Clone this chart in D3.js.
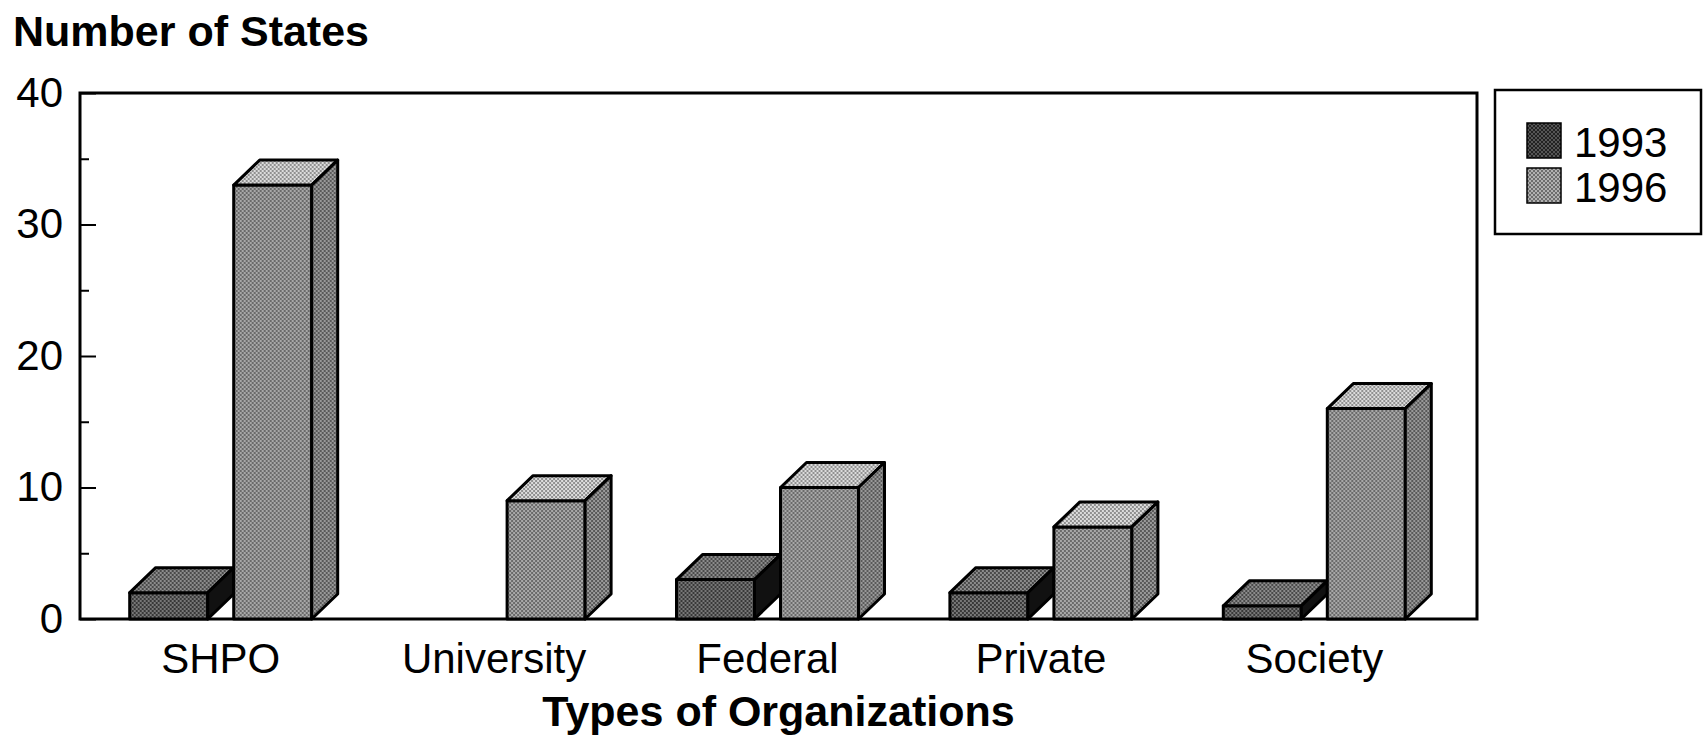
<!DOCTYPE html>
<html>
<head>
<meta charset="utf-8">
<script src="https://cdn.jsdelivr.net/npm/d3@7"></script>
<style>
  body { margin: 0; background: #fff; }
  svg { display: block; font-family: "Liberation Sans", Arial, sans-serif; }
</style>
</head>
<body>
<svg id="chart"></svg>
<script>
// Number of states by type of organization, 1993 vs 1996 (3D bar chart)

const categories = ["SHPO", "University", "Federal", "Private", "Society"];
const series = ["1993", "1996"];
const values1993 = [2, 0, 3, 2, 1];
const values1996 = [33, 9, 10, 7, 16];
const yTickValues = [0, 10, 20, 30, 40];
const yMinorTickValues = [5, 15, 25, 35];

const width = 1705;
const height = 735;
const plotLeft = 80, plotRight = 1477, plotTop = 93, plotBottom = 619;
const depthX = 26, depthY = 25; // 3D offset of the bars

const svg = d3.select("#chart").attr("width", width).attr("height", height);

// halftone-like fills
const defs = svg.append("defs");
function dotPattern(id, bg, dot) {
    const p = defs.append("pattern")
        .attr("id", id)
        .attr("patternUnits", "userSpaceOnUse")
        .attr("width", 4).attr("height", 4);
    p.append("rect").attr("width", 4).attr("height", 4).attr("fill", bg);
    p.append("circle").attr("cx", 1).attr("cy", 1).attr("r", 1).attr("fill", dot);
    p.append("circle").attr("cx", 3).attr("cy", 3).attr("r", 1).attr("fill", dot);
}
dotPattern("f1993", "#777", "#222");
dotPattern("t1993", "#8c8c8c", "#333");
dotPattern("f1996", "#a8a8a8", "#555");
dotPattern("t1996", "#dcdcdc", "#777");
dotPattern("s1996", "#999", "#444");
dotPattern("l1993", "#555", "#111");
dotPattern("l1996", "#b0b0b0", "#555");

const faces = {
    "1993": { front: "url(#f1993)", top: "url(#t1993)", side: "#111", legend: "url(#l1993)" },
    "1996": { front: "url(#f1996)", top: "url(#t1996)", side: "url(#s1996)", legend: "url(#l1996)" }
};

const rows = categories.map((c, i) => ({
    category: c,
    values: [
        { key: "1993", value: values1993[i] },
        { key: "1996", value: values1996[i] }
    ]
}));

// scales
const y = d3.scaleLinear().domain([0, 40]).range([plotBottom, plotTop]);
const x0 = d3.scaleBand().domain(categories).range([84, 1451]).padding(0);
const x1 = d3.scaleBand().domain(series).range([0, 208]).padding(0);
const barW = x1.bandwidth() - depthX;
const groupOffset = (x0.bandwidth() - (x1.range()[1] - depthX)) / 2;

// y axis, ticks pointing into the plot
svg.append("g")
    .attr("transform", `translate(${plotLeft},0)`)
    .call(d3.axisLeft(y).tickValues(yTickValues).tickSizeInner(-16).tickSizeOuter(0).tickPadding(17))
    .call(g => g.select(".domain").remove())
    .call(g => g.selectAll("line").attr("stroke", "#000").attr("stroke-width", 2))
    .call(g => g.selectAll("text")
        .attr("font-size", 42)
        .attr("fill", "#000")
        .attr("font-family", "Liberation Sans, Arial, sans-serif"));

svg.append("g")
    .attr("transform", `translate(${plotLeft},0)`)
    .call(d3.axisLeft(y).tickValues(yMinorTickValues).tickSizeInner(-9).tickSizeOuter(0).tickFormat(""))
    .call(g => g.select(".domain").remove())
    .call(g => g.selectAll("line").attr("stroke", "#000").attr("stroke-width", 2));

// frame
svg.append("path")
    .attr("d", `M${plotLeft},${plotBottom}V${plotTop}H${plotRight}V${plotBottom}Z`)
    .attr("fill", "none")
    .attr("stroke", "#000")
    .attr("stroke-width", 3);

// bars
const groups = svg.append("g").selectAll("g")
    .data(rows)
    .join("g")
    .attr("transform", d => `translate(${x0(d.category) + groupOffset},0)`);

const bars = groups.selectAll("g.bar")
    .data(d => d.values.filter(v => v.value > 0))
    .join("g")
    .attr("class", "bar")
    .attr("stroke", "#000")
    .attr("stroke-width", 3)
    .attr("stroke-linejoin", "round");

bars.append("rect")
    .attr("x", d => x1(d.key))
    .attr("y", d => y(d.value))
    .attr("width", barW)
    .attr("height", d => y(0) - y(d.value))
    .attr("fill", d => faces[d.key].front);

bars.append("path")
    .attr("d", d => {
        const xl = x1(d.key), yt = y(d.value);
        return `M${xl},${yt}L${xl + depthX},${yt - depthY}H${xl + barW + depthX}L${xl + barW},${yt}Z`;
    })
    .attr("fill", d => faces[d.key].top);

bars.append("path")
    .attr("d", d => {
        const xr = x1(d.key) + barW, yt = y(d.value), yb = y(0);
        return `M${xr},${yt}L${xr + depthX},${yt - depthY}V${yb - depthY}L${xr},${yb}Z`;
    })
    .attr("fill", d => faces[d.key].side);

// category labels
svg.append("g").selectAll("text")
    .data(categories)
    .join("text")
    .attr("x", d => x0(d) + groupOffset + (x1.range()[1] - depthX) / 2)
    .attr("y", 673)
    .attr("text-anchor", "middle")
    .attr("font-size", 42)
    .text(d => d);

// axis titles
svg.append("text")
    .attr("x", 13)
    .attr("y", 46)
    .attr("font-size", 43)
    .attr("font-weight", "bold")
    .text("Number of States");

svg.append("text")
    .attr("x", (plotLeft + plotRight) / 2)
    .attr("y", 726)
    .attr("text-anchor", "middle")
    .attr("font-size", 43)
    .attr("font-weight", "bold")
    .text("Types of Organizations");

// legend
const legend = svg.append("g");
legend.append("rect")
    .attr("x", 1495).attr("y", 90)
    .attr("width", 206).attr("height", 144)
    .attr("fill", "#fff")
    .attr("stroke", "#000")
    .attr("stroke-width", 2.5);

const legendItems = legend.selectAll("g.item")
    .data(series)
    .join("g")
    .attr("class", "item")
    .attr("transform", (d, i) => `translate(1527,${123 + i * 45})`);

legendItems.append("rect")
    .attr("width", 34).attr("height", 35)
    .attr("fill", d => faces[d].legend)
    .attr("stroke", "#000")
    .attr("stroke-width", 1.5);

legendItems.append("text")
    .attr("x", 47)
    .attr("y", 34)
    .attr("font-size", 42)
    .text(d => d);
</script>
</body>
</html>
